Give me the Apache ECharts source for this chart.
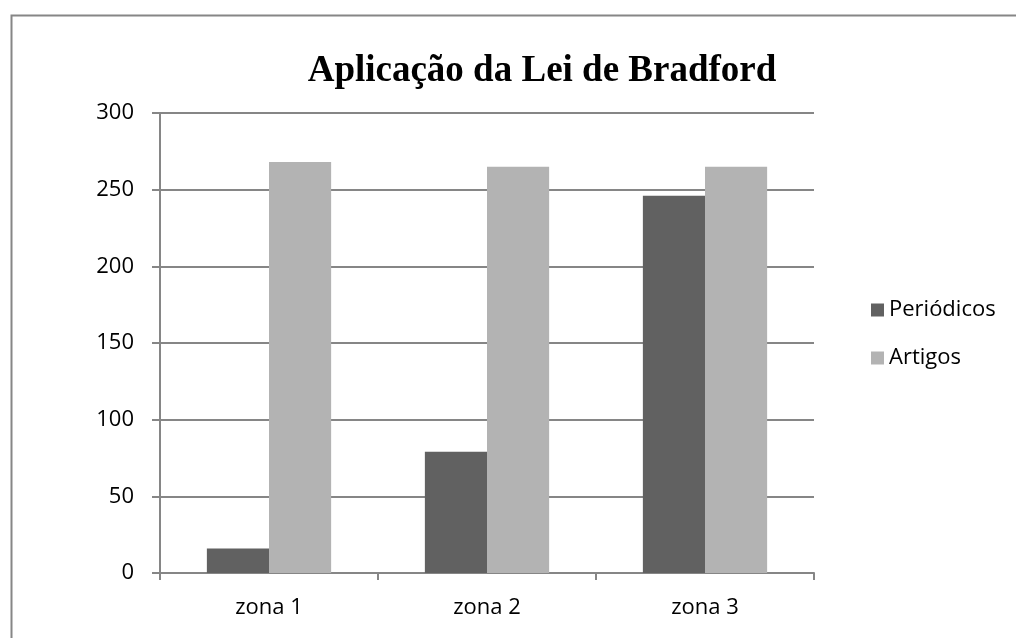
<!DOCTYPE html>
<html><head><meta charset="utf-8">
<script src="https://cdn.jsdelivr.net/npm/echarts@6/dist/echarts.min.js"></script>
<style>html,body{margin:0;padding:0;background:#fff}#c{width:1016px;height:638px}</style>
</head><body><div id="c"></div>
<script>
const categories = ['zona 1', 'zona 2', 'zona 3'];
const periodicos = [16, 79, 246];
const artigos = [268, 265, 265];
const yTicks = { min: 0, max: 300, interval: 50 };
const seriesNames = ['Periódicos', 'Artigos'];
const font = '"Open Sans", "Noto Sans", sans-serif';

const chart = echarts.init(document.getElementById('c'));
chart.setOption({
  animation: false,
  backgroundColor: '#fff',
  title: {
    text: 'Aplicação da Lei de Bradford',
    left: 537, top: 48, textAlign: 'center',
    textStyle: { fontFamily: '"Liberation Serif", "DejaVu Serif", serif', fontWeight: 'bold', fontSize: 37, color: '#000' }
  },
  legend: {
    orient: 'vertical', left: 866, top: 294,
    itemWidth: 13, itemHeight: 13, itemGap: 26,
    icon: 'rect',
    textStyle: { fontFamily: font, fontSize: 22, color: '#000' },
    data: seriesNames
  },
  grid: { left: 160, right: 202, top: 113, bottom: 65, containLabel: false },
  xAxis: {
    type: 'category', data: categories,
    axisLine: { lineStyle: { color: '#868686', width: 2 } },
    axisTick: { show: true, length: 7, lineStyle: { color: '#868686', width: 2 } },
    axisLabel: { fontFamily: font, fontSize: 22, color: '#000', margin: 24 }
  },
  yAxis: {
    type: 'value', min: yTicks.min, max: yTicks.max, interval: yTicks.interval,
    axisLine: { show: true, lineStyle: { color: '#868686', width: 2 } },
    axisTick: { show: true, length: 8, lineStyle: { color: '#868686', width: 2 } },
    splitLine: { lineStyle: { color: '#868686', width: 2 } },
    axisLabel: { fontFamily: font, fontSize: 22, color: '#000', margin: 26 }
  },
  series: [
    { name: seriesNames[0], type: 'bar', data: periodicos, barGap: '0%', barCategoryGap: '43%',
      itemStyle: { color: '#616161' } },
    { name: seriesNames[1], type: 'bar', data: artigos, barGap: '0%', barCategoryGap: '43%',
      itemStyle: { color: '#b3b3b3' } }
  ],
  graphic: [{
    type: 'rect', left: 9, top: 13, silent: true,
    shape: { width: 1100, height: 700 },
    style: { fill: 'none', stroke: '#868686', lineWidth: 2 }
  }]
});
</script></body></html>
